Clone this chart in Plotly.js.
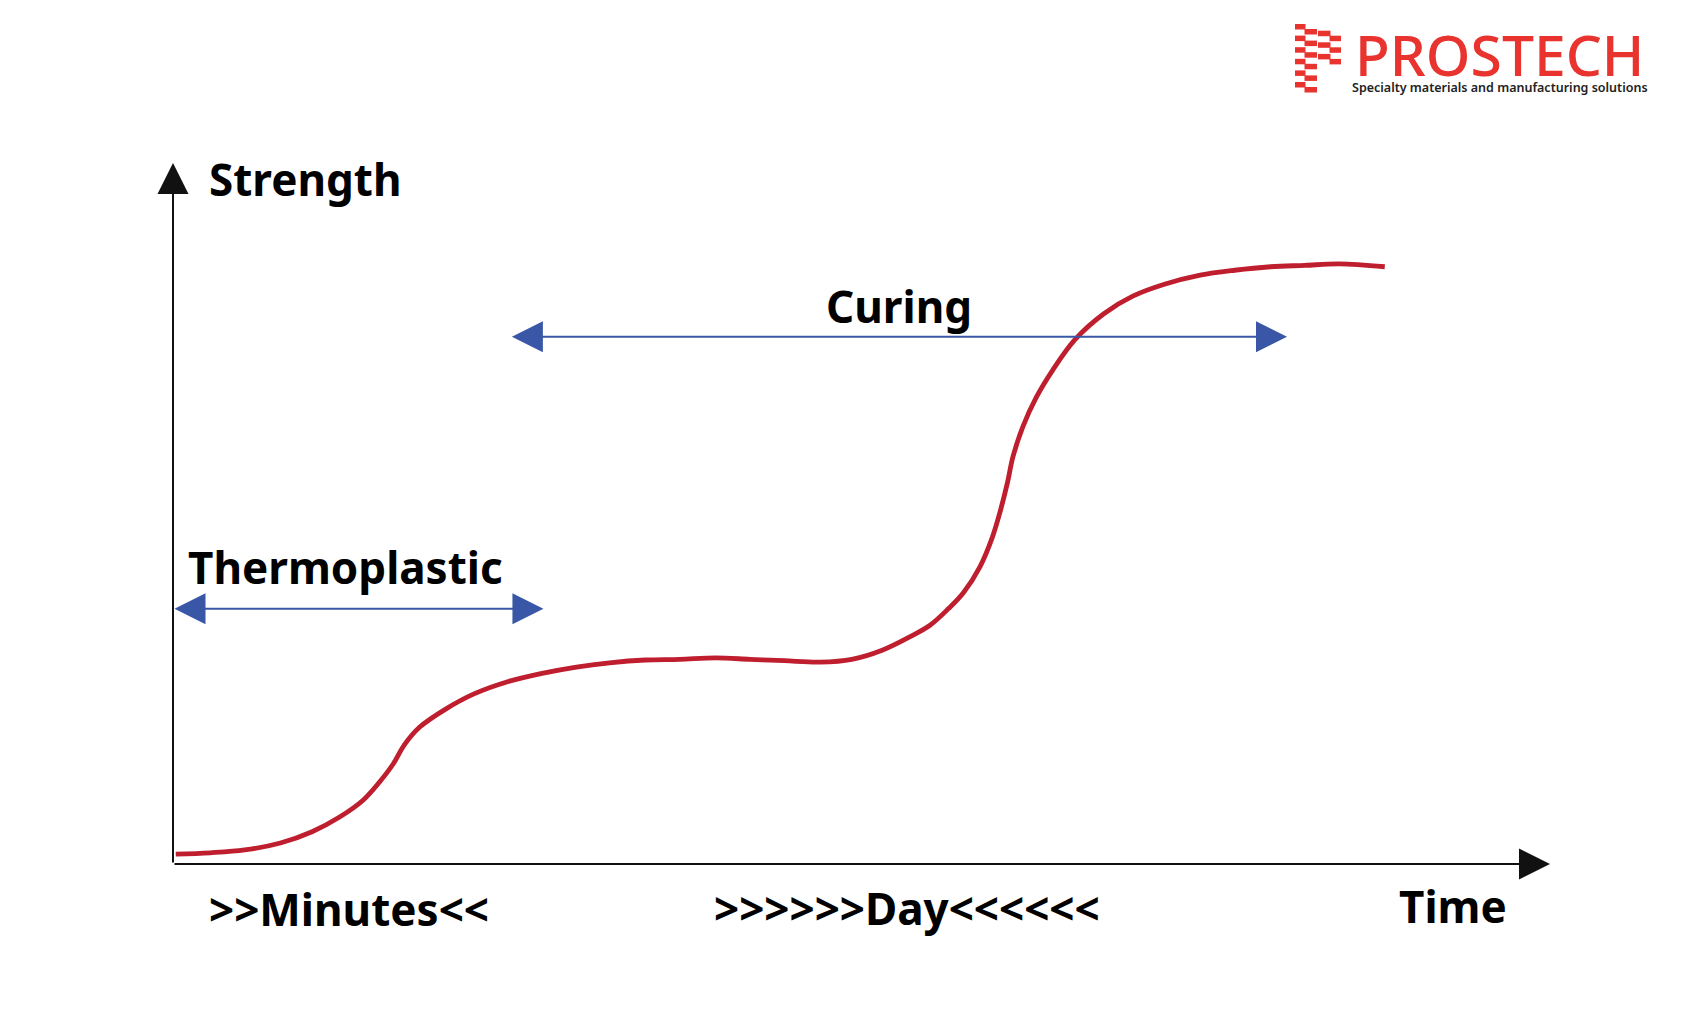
<!DOCTYPE html>
<html>
<head>
<meta charset="utf-8">
<script src="https://cdn.plot.ly/plotly-3.0.1.min.js"></script>
<style>
  html, body { margin: 0; padding: 0; background: #ffffff; }
  #chart { width: 1689px; height: 1028px; }
</style>
</head>
<body>
<div id="chart"></div>
<script>
// ---------------- data ----------------
// time axis (arbitrary units, 0..100) and strength (0..100)
const timeValues = [0.2, 2.7, 5.2, 7.8, 10.1, 12.1, 13.8, 15.0, 16.0, 16.8, 17.9, 19.8, 21.9, 24.3,
  26.8, 29.3, 31.7, 34.3, 36.8, 39.4, 41.9, 44.4, 47.0, 49.3, 51.5, 53.5, 55.0, 56.3, 57.4,
  58.6, 59.5, 60.1, 60.6, 61.0, 61.7, 62.7, 63.9, 65.5, 67.6, 69.7, 72.0, 74.6, 77.1, 79.7,
  82.2, 84.7, 88.0];
const strengthValues = [1.4, 1.6, 2.0, 3.0, 4.6, 6.7, 9.1, 11.7, 14.3, 17.0, 19.5, 22.1, 24.3, 26.0,
  27.2, 28.1, 28.7, 29.1, 29.2, 29.4, 29.2, 29.0, 28.8, 29.2, 30.5, 32.4, 34.1, 36.4, 38.7,
  42.4, 46.6, 50.5, 54.4, 58.1, 62.3, 66.6, 70.5, 74.8, 78.5, 81.0, 82.7, 84.0, 84.7, 85.2,
  85.4, 85.6, 85.2];

// phases shown by double arrows
const phaseNames = ['Thermoplastic', 'Curing'];
const phaseStart = [0, 24.5];
const phaseEnd = [26.9, 80.9];
const phaseLevel = [36.4, 75.2];

// time scale labels under the axis
const timeLabels = ['>>Minutes<<', '>>>>>>Day<<<<<<'];
const timeLabelPos = [12.8, 53.3];

const yAxisLabel = 'Strength';
const xAxisLabel = 'Time';
const brandName = 'PROSTECH';
const brandTagline = 'Specialty materials and manufacturing solutions';

// ---------------- layout helpers ----------------
const W = 1689, H = 1028;
const M = { l: 173, r: 139, t: 163, b: 164 };
const PW = W - M.l - M.r, PH = H - M.t - M.b;
const px2x = px => (px - M.l) / PW;          // pixel -> paper x
const py2y = py => (H - M.b - py) / PH;      // pixel -> paper y

const RED = '#be1e2d';
const BLUE = '#3a57a7';
const INK = '#111111';
const BRAND = '#e8332f';
const LABEL_FONT = { family: 'Noto Sans', size: 44, color: '#000000', weight: 700 };

const annotations = [];
const shapes = [];

// axes with arrowheads
annotations.push({
  x: 0, y: 100, xref: 'x', yref: 'y', ax: 0, ay: 0, axref: 'x', ayref: 'y',
  text: '', showarrow: true, arrowhead: 2, arrowsize: 3.1, arrowwidth: 2, arrowcolor: INK, standoff: 0
});
annotations.push({
  x: 100, y: 0, xref: 'x', yref: 'y', ax: 0, ay: 0, axref: 'x', ayref: 'y',
  text: '', showarrow: true, arrowhead: 2, arrowsize: 3.1, arrowwidth: 2, arrowcolor: INK, standoff: 0
});

// phase double arrows
for (let i = 0; i < phaseNames.length; i++) {
  annotations.push({
    x: phaseEnd[i], y: phaseLevel[i], xref: 'x', yref: 'y',
    ax: phaseStart[i], ay: phaseLevel[i], axref: 'x', ayref: 'y',
    text: '', showarrow: true, arrowside: 'end+start',
    arrowhead: 2, startarrowhead: 2, arrowsize: 3.1, startarrowsize: 3.1,
    arrowwidth: 2, arrowcolor: BLUE, standoff: 0, startstandoff: 0
  });
}

// phase labels
annotations.push({ x: 12.5, y: 42.4, xref: 'x', yref: 'y', text: phaseNames[0], showarrow: false,
  xanchor: 'center', yanchor: 'middle', font: LABEL_FONT });
annotations.push({ x: 52.7, y: 79.6, xref: 'x', yref: 'y', text: phaseNames[1], showarrow: false,
  xanchor: 'center', yanchor: 'middle', font: LABEL_FONT });

// axis labels
annotations.push({ x: px2x(305), y: py2y(179), xref: 'paper', yref: 'paper', text: yAxisLabel,
  showarrow: false, xanchor: 'center', yanchor: 'middle', font: LABEL_FONT });
annotations.push({ x: px2x(1453), y: py2y(906), xref: 'paper', yref: 'paper', text: xAxisLabel,
  showarrow: false, xanchor: 'center', yanchor: 'middle', font: LABEL_FONT });

// time scale labels
const labelY = [py2y(909), py2y(908)];
for (let i = 0; i < timeLabels.length; i++) {
  annotations.push({ x: timeLabelPos[i], y: labelY[i], xref: 'x', yref: 'paper', text: timeLabels[i],
    showarrow: false, xanchor: 'center', yanchor: 'middle', font: LABEL_FONT });
}

// brand logo: name + tagline in one text block
annotations.push({ x: px2x(1500), y: py2y(55), xref: 'paper', yref: 'paper',
  text: '<span style="font-size:57px;color:' + BRAND + ';font-weight:500">' + brandName + '</span><br>' +
        '<span style="font-size:12.5px;font-weight:600">' + brandTagline + '</span>',
  showarrow: false, xanchor: 'center', yanchor: 'middle', align: 'center',
  font: { family: 'Noto Sans', size: 12.5, color: '#222222' } });

// brand icon: stepped stripes
function bar(x0, x1, y0, y1) {
  shapes.push({ type: 'rect', xref: 'paper', yref: 'paper', x0: px2x(x0), x1: px2x(x1),
    y0: py2y(y1), y1: py2y(y0), fillcolor: BRAND, line: { width: 0 } });
}
for (let i = 0; i < 6; i++) {
  const y = 24 + 11.6 * i;
  bar(1295, 1305.5, y, y + 5.5);
  bar(1304.5, 1317, y + 5, y + 10.5);
}
for (let i = 0; i < 3; i++) {
  const y = 30.7 + 11.6 * i;
  bar(1318, 1330.5, y, y + 5.5);
  bar(1329.5, 1341, y + 5, y + 10.5);
}

const traces = [{
  x: timeValues, y: strengthValues, type: 'scatter', mode: 'lines',
  line: { color: RED, width: 4.8, shape: 'spline', smoothing: 1 },
  hoverinfo: 'skip', cliponaxis: false
}];

const layout = {
  width: W, height: H,
  margin: M,
  paper_bgcolor: '#ffffff', plot_bgcolor: '#ffffff',
  showlegend: false,
  xaxis: { range: [0, 100], visible: false, fixedrange: true },
  yaxis: { range: [0, 100], visible: false, fixedrange: true },
  annotations: annotations,
  shapes: shapes
};

Plotly.newPlot('chart', traces, layout, { displayModeBar: false, staticPlot: true });
</script>
</body>
</html>
